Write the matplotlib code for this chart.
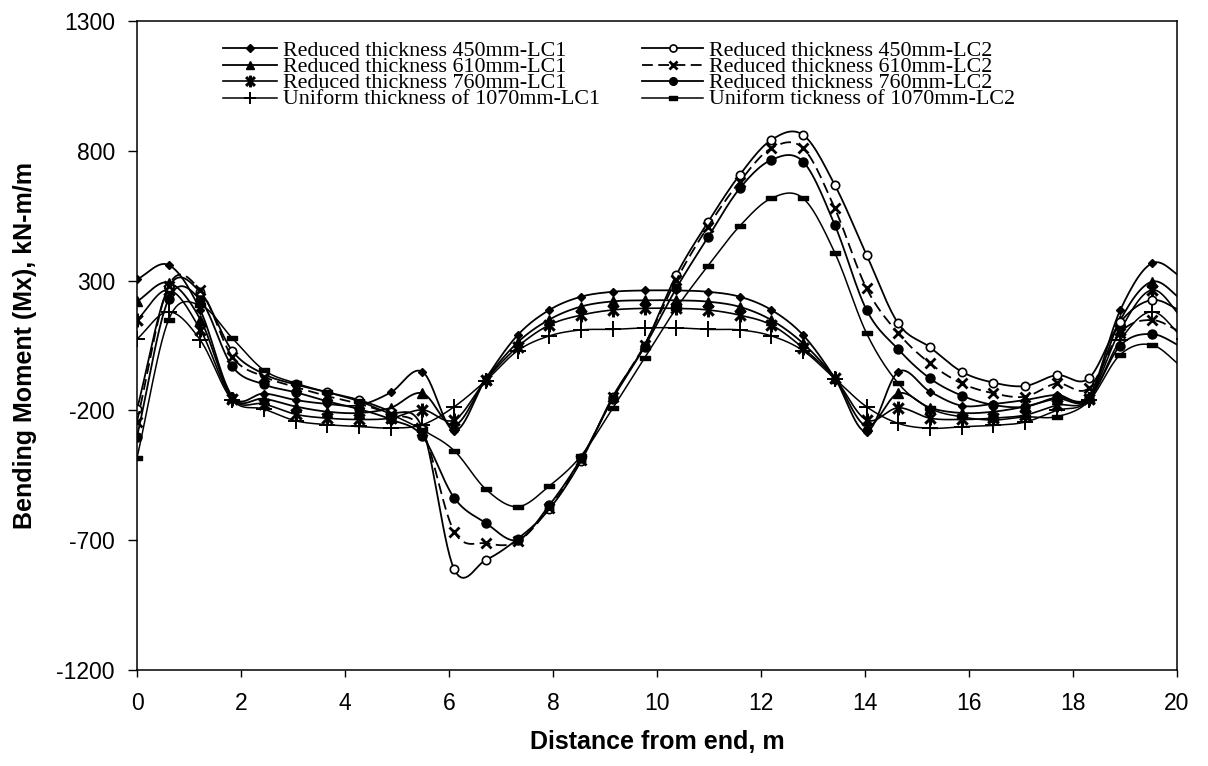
import numpy as np
import matplotlib
matplotlib.use("Agg")
import matplotlib.pyplot as plt
from matplotlib.path import Path
from matplotlib.lines import Line2D

plt.rcParams['font.family'] = ['Liberation Sans', 'DejaVu Sans']
plt.rcParams['axes.unicode_minus'] = False

# Stations along the slab (m)
station_m = [0.00, 0.61, 1.22, 1.83, 2.44, 3.05, 3.66, 4.27, 4.88, 5.49,
             6.10, 6.71, 7.32, 7.93, 8.54, 9.15, 9.76, 10.37, 10.98, 11.59,
             12.20, 12.81, 13.42, 14.03, 14.64, 15.25, 15.86, 16.47, 17.08,
             17.69, 18.30, 18.91, 19.52, 20.13]

# Bending moment Mx (kN-m/m), load case 1
red450_lc1 = [305, 360, 185, -145, -135, -160, -175, -180, -131, -51,
              -278, -77, 90, 187, 238, 257, 262, 262, 257, 238,
              187, 90, -76, -282, -51, -128, -182, -175, -160, -140,
              -148, 187, 367, 307]
red610_lc1 = [220, 292, 150, -150, -155, -185, -205, -210, -190, -134,
              -258, -80, 62, 150, 200, 220, 224, 224, 219, 199,
              148, 58, -76, -260, -134, -190, -210, -205, -185, -155,
              -150, 148, 296, 220]
red760_lc1 = [148, 264, 110, -155, -175, -215, -230, -235, -230, -198,
              -237, -82, 45, 129, 167, 187, 193, 193, 187, 167,
              129, 40, -76, -237, -190, -230, -235, -230, -218, -180,
              -155, 110, 264, 148]
uni_lc1 = [75, 180, 70, -160, -195, -240, -255, -262, -268, -255,
           -186, -85, 30, 87, 110, 112, 118, 118, 112, 110,
           87, 30, -78, -186, -250, -269, -263, -258, -245, -200,
           -160, 71, 180, 75]

# Bending moment Mx (kN-m/m), load case 2
red450_lc2 = [-196, 275, 255, 30, -60, -100, -130, -160, -205, -270,
              -812, -776, -695, -580, -395, -147, 50, 321, 525, 707,
              842, 861, 668, 399, 135, 43, -51, -93, -106, -64,
              -77, 140, 225, 177]
red610_lc2 = [-243, 280, 262, 7, -70, -110, -145, -175, -215, -280,
              -667, -712, -705, -576, -391, -150, 52, 302, 508, 681,
              810, 810, 578, 270, 97, -19, -96, -134, -147, -96,
              -115, 100, 148, 95]
red760_lc2 = [-301, 230, 225, -30, -100, -130, -165, -195, -235, -300,
              -537, -634, -699, -565, -385, -155, 45, 270, 467, 655,
              765, 758, 514, 187, 35, -77, -143, -179, -186, -150,
              -154, 50, 94, 40]
uni_lc2 = [-383, 150, 205, 79, -45, -95, -130, -165, -215, -275,
           -355, -504, -571, -491, -375, -191, 2, 193, 357, 510,
           617, 617, 407, 97, -96, -192, -225, -237, -225, -224,
           -165, 15, 52, -40]

labels_lc1 = ["Reduced thickness 450mm-LC1", "Reduced thickness 610mm-LC1",
              "Reduced thickness 760mm-LC1", "Uniform thickness of 1070mm-LC1"]
labels_lc2 = ["Reduced thickness 450mm-LC2", "Reduced thickness 610mm-LC2",
              "Reduced thickness 760mm-LC2", "Uniform tickness of 1070mm-LC2"]

yticks = [-1200, -700, -200, 300, 800, 1300]
xticks = [0, 2, 4, 6, 8, 10, 12, 14, 16, 18, 20]

# custom marker shapes
M, L = Path.MOVETO, Path.LINETO
star_marker = Path([(0, -1), (0, 1), (-0.75, -0.75), (0.75, 0.75),
                    (-0.75, 0.75), (0.75, -0.75)], [M, L, M, L, M, L])
bar_marker = Path([(-1, -0.55), (1, -0.55), (1, 0.55), (-1, 0.55), (-1, -0.55)],
                  [M, L, L, L, Path.CLOSEPOLY])

K = 'black'
styles_lc1 = [
    dict(marker='D', ms=4.5, mfc=K, mec=K, mew=1.0, ls='-', lw=1.3),
    dict(marker='^', ms=6.5, mfc=K, mec=K, mew=1.0, ls='-', lw=1.3),
    dict(marker=star_marker, ms=10, mfc='none', mec=K, mew=2.2, ls='-', lw=1.2),
    dict(marker='+', ms=11, mfc=K, mec=K, mew=1.4, ls='-', lw=1.1),
]
styles_lc2 = [
    dict(marker='o', ms=6, mfc='white', mec=K, mew=1.2, ls='-', lw=1.3),
    dict(marker='x', ms=7.5, mfc=K, mec=K, mew=2.0, ls=(0, (6, 3)), lw=1.3),
    dict(marker='o', ms=6.5, mfc=K, mec=K, mew=1.0, ls='-', lw=1.3),
    dict(marker=bar_marker, ms=6.5, mfc=K, mec=K, mew=1.0, ls='-', lw=1.1),
]


def smooth_path(xs, ys, n=14):
    """Catmull-Rom curve through the points (smoothed line style)."""
    P = np.column_stack([xs, ys]).astype(float)
    P = np.vstack([2 * P[0] - P[1], P, 2 * P[-1] - P[-2]])
    t = np.linspace(0, 1, n, endpoint=False)[:, None]
    pieces = []
    for i in range(1, len(P) - 2):
        p0, p1, p2, p3 = P[i - 1], P[i], P[i + 1], P[i + 2]
        seg = 0.5 * ((2 * p1) + (-p0 + p2) * t
                     + (2 * p0 - 5 * p1 + 4 * p2 - p3) * t ** 2
                     + (-p0 + 3 * p1 - 3 * p2 + p3) * t ** 3)
        pieces.append(seg)
    pieces.append(P[-2][None, :])
    return np.vstack(pieces)


W, H = 1208, 766
fig = plt.figure(figsize=(W / 100, H / 100), dpi=100)
ax = fig.add_axes([137 / W, 1 - 670 / H, 1040 / W, 649 / H])

all_series = list(zip([red450_lc1, red610_lc1, red760_lc1, uni_lc1], styles_lc1)) + \
             list(zip([red450_lc2, red610_lc2, red760_lc2, uni_lc2], styles_lc2))

for vals, st in all_series:
    curve = smooth_path(station_m, vals)
    ax.plot(curve[:, 0], curve[:, 1], color=K, lw=st['lw'], ls=st['ls'])
    ax.plot(station_m, vals, ls='none', marker=st['marker'], ms=st['ms'],
            mfc=st['mfc'], mec=st['mec'], mew=st['mew'])

ax.set_xlim(0, 20)
ax.set_ylim(-1200, 1300)
ax.set_xticks(xticks)
ax.set_yticks(yticks)
ax.set_xticklabels([str(v) for v in xticks])
ax.set_yticklabels([str(v) for v in yticks])
ax.tick_params(axis='x', direction='out', length=5.3, width=1.0, pad=10.5,
               labelsize=16.5, colors=K)
ax.tick_params(axis='y', direction='out', length=6.5, width=1.0, pad=9.4,
               labelsize=16.5, colors=K)
for sp in ax.spines.values():
    sp.set_linewidth(1.1)
    sp.set_color(K)

ax.set_xlabel("Distance from end, m", fontsize=18, fontweight='bold')
ax.set_ylabel("Bending Moment (Mx), kN-m/m", fontsize=18, fontweight='bold')
ax.xaxis.set_label_coords(0.5, -0.092)
ax.yaxis.set_label_coords(-0.0962, 0.5)

# legend: two columns of line samples with serif labels
serif = ['Liberation Serif', 'DejaVu Serif']
row_y = [48, 64.7, 81.4, 98.1]
cols = [(223, 277, 283, labels_lc1, styles_lc1),
        (642, 703, 709, labels_lc2, styles_lc2)]
for x0, x1, xt, labs, stys in cols:
    for yy, st in zip(row_y, stys):
        fy = 1 - yy / H
        fig.add_artist(Line2D([x0 / W, x1 / W], [fy, fy], transform=fig.transFigure,
                              color=K, lw=st['lw'], ls=st['ls']))
        fig.add_artist(Line2D([(x0 + x1) / 2 / W], [fy], transform=fig.transFigure,
                              ls='none', marker=st['marker'], ms=st['ms'] * 0.85,
                              mfc=st['mfc'], mec=st['mec'], mew=st['mew']))
    # multi-line block; baseline anchor refers to the last row
    fig.text(xt / W, 1 - (row_y[-1] + 6) / H, "\n".join(labs), family=serif,
             fontsize=15.8, ha='left', va='baseline', linespacing=0.8,
             color=K)

fig.savefig("out.png", dpi=100, facecolor='white')
